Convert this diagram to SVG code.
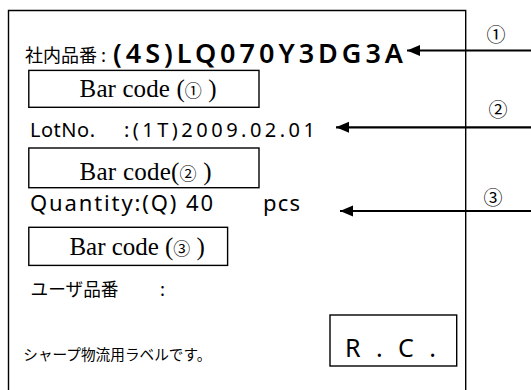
<svg xmlns="http://www.w3.org/2000/svg" width="531" height="390" viewBox="0 0 531 390">
  <style>
    .frame { fill: none; stroke: #000; stroke-width: 1.4; }
    .box { fill: #fff; stroke: #000; stroke-width: 1.4; }
    .serif { font-family: "Liberation Serif", "Noto Sans CJK JP", serif; font-size: 25px; fill: #000; }
    .circ { font-family: "Noto Sans CJK JP", sans-serif; font-size: 17px; }
    .sans { font-family: "Noto Sans", "Noto Sans CJK JP", sans-serif; fill: #000; }
    .jp { font-family: "Noto Sans CJK JP", sans-serif; fill: #000; }
    .num { font-family: "Noto Sans CJK JP", sans-serif; font-size: 19px; fill: #000; text-anchor: middle; }
    .arrow { fill: none; stroke: #000; stroke-width: 2.2; }
  </style>
  <defs>
    <marker id="ah" markerUnits="userSpaceOnUse" markerWidth="14" markerHeight="14" viewBox="0 -7 14 14" refX="13" refY="0" orient="auto">
      <path d="M0,-5.5 L13,0 L0,5.5 z" fill="#000"/>
    </marker>
  </defs>
  <rect width="531" height="390" fill="#fff"/>

  <g id="label-frame">
    <path class="frame" d="M8.5,400 V10.5 H465.7 V400"/>
  </g>

  <g id="part-number">
    <text class="jp" x="25" y="62" font-size="18" textLength="72" lengthAdjust="spacingAndGlyphs">社内品番</text>
    <text class="jp" x="101" y="62" font-size="18">:</text>
    <text class="sans" x="113" y="63" font-size="27" font-weight="600" textLength="290" lengthAdjust="spacing">(4S)LQ070Y3DG3A</text>
  </g>

  <g id="barcode-1">
    <rect class="box" x="28.8" y="70.4" width="230.2" height="36.9"/>
    <text class="serif" x="79.6" y="96.5" textLength="137" lengthAdjust="spacing">Bar code (<tspan class="circ">①</tspan> )</text>
  </g>

  <g id="lot-number">
    <text class="sans" x="30" y="136.5" font-size="20" textLength="65" lengthAdjust="spacing">LotNo.</text>
    <text class="sans" x="124" y="136.5" font-size="20" textLength="191" lengthAdjust="spacing">:(1T)2009.02.01</text>
  </g>

  <g id="barcode-2">
    <rect class="box" x="28.8" y="148" width="230.2" height="39.7"/>
    <text class="serif" x="79.6" y="180" textLength="132" lengthAdjust="spacing">Bar code(<tspan class="circ">②</tspan> )</text>
  </g>

  <g id="quantity">
    <text class="sans" x="30" y="211" font-size="22" textLength="183" lengthAdjust="spacing">Quantity:(Q) 40</text>
    <text class="sans" x="263" y="211" font-size="22" textLength="37" lengthAdjust="spacing">pcs</text>
  </g>

  <g id="barcode-3">
    <rect class="box" x="28.8" y="227.3" width="198.8" height="38.1"/>
    <text class="serif" x="69.4" y="255" textLength="135.5" lengthAdjust="spacing">Bar code (<tspan class="circ">③</tspan> )</text>
  </g>

  <g id="user-part-number">
    <text class="jp" x="30.5" y="296" font-size="18" textLength="88" lengthAdjust="spacingAndGlyphs">ユーザ品番</text>
    <text class="jp" x="160" y="296" font-size="18">:</text>
  </g>

  <g id="rc-box">
    <rect class="box" x="330" y="315" width="126.7" height="51"/>
    <text class="sans" x="345" y="356.7" font-size="25" textLength="91" lengthAdjust="spacing">R . C .</text>
  </g>

  <g id="note">
    <text class="jp" x="23.3" y="360" font-size="15" textLength="188" lengthAdjust="spacingAndGlyphs">シャープ物流用ラベルです。</text>
  </g>

  <g id="callouts">
    <text class="num" x="496" y="42">①</text>
    <text class="num" x="498" y="116.5">②</text>
    <text class="num" x="493" y="204.5">③</text>
  </g>

  <g id="connectors">
    <path class="arrow" d="M531,50.5 H407" marker-end="url(#ah)"/>
    <path class="arrow" d="M531,127.3 H336" marker-end="url(#ah)"/>
    <path class="arrow" d="M531,211 H340" marker-end="url(#ah)"/>
  </g>
</svg>
